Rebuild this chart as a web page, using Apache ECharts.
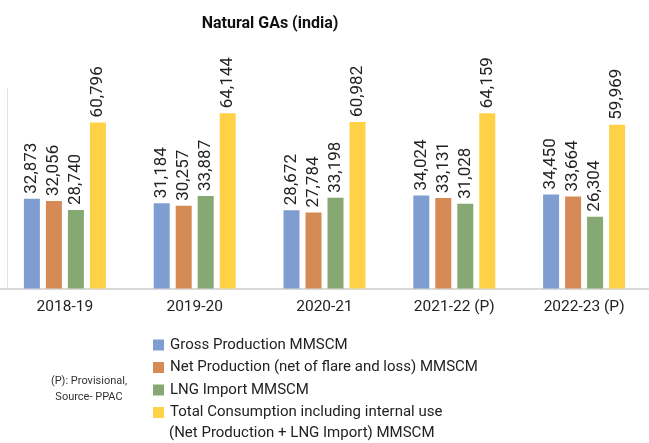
<!DOCTYPE html>
<html>
<head>
<meta charset="utf-8">
<script src="https://cdn.jsdelivr.net/npm/echarts@6/dist/echarts.min.js"></script>
<style>html,body{margin:0;padding:0;background:#fff;}#c{width:649px;height:443px;}</style>
</head>
<body>
<div id="c"></div>
<script>
var categories = ['2018-19', '2019-20', '2020-21', '2021-22 (P)', '2022-23 (P)'];
var grossProduction = [32873, 31184, 28672, 34024, 34450];
var netProduction = [32056, 30257, 27784, 33131, 33664];
var lngImport = [28740, 33887, 33198, 31028, 26304];
var totalConsumption = [60796, 64144, 60982, 64159, 59969];
var seriesNames = ['Gross Production MMSCM', 'Net Production (net of flare and loss) MMSCM', 'LNG Import MMSCM', 'Total Consumption including internal use'];
var colors = ['#7f9dd1', '#d68b56', '#86a872', '#ffd147'];

var chart = echarts.init(document.getElementById('c'));
var fontFam = 'Roboto, "DejaVu Sans", sans-serif';
function mk(name, data, color) {
  return {
    name: name, type: 'bar', data: data, barWidth: 16, barGap: '37.5%',
    itemStyle: { color: color },
    label: {
      show: true, position: 'top', rotate: 90, align: 'left', verticalAlign: 'middle',
      distance: 5, fontSize: 17, color: '#222', fontFamily: fontFam,
      formatter: function (p) { return p.value.toLocaleString('en-US'); }
    }
  };
}
chart.setOption({
  animation: false,
  title: { text: 'Natural GAs (india)', left: 265, textAlign: 'center', top: 11,
    textStyle: { fontSize: 16, fontWeight: 'bold', color: '#111', fontFamily: fontFam } },
  grid: { left: -1.5, top: 88, width: 660, height: 200.5, containLabel: false },
  xAxis: { type: 'category', data: categories,
    axisLine: { lineStyle: { color: '#d9d9d9', width: 2 } }, axisTick: { show: false },
    axisLabel: { fontSize: 15.5, color: '#222', fontFamily: fontFam, margin: 11 } },
  yAxis: { type: 'value', min: 0, max: 73400, show: false, splitLine: { show: false } },
  legend: {
    orient: 'vertical', left: 148, top: 332.5, itemWidth: 11, itemHeight: 11, itemGap: 7.5,
    icon: 'rect',
    textStyle: { fontSize: 15, color: '#222', fontFamily: fontFam, padding: [0, 0, 0, 1] },
    data: seriesNames
  },
  graphic: [
    { type: 'line', shape: { x1: 7.5, y1: 88, x2: 7.5, y2: 288 }, style: { stroke: '#e4e4e4', lineWidth: 1 } },
    { type: 'text', x: 169, y: 433, style: { text: '(Net Production + LNG Import) MMSCM', fontSize: 15, fill: '#222', fontFamily: fontFam, verticalAlign: 'middle' } },
    { type: 'text', x: 89, y: 381, style: { text: '(P): Provisional,', fontSize: 11, fill: '#333', fontFamily: fontFam, align: 'center', verticalAlign: 'middle' } },
    { type: 'text', x: 89, y: 397, style: { text: 'Source- PPAC', fontSize: 11, fill: '#333', fontFamily: fontFam, align: 'center', verticalAlign: 'middle' } }
  ],
  series: [
    mk(seriesNames[0], grossProduction, colors[0]),
    mk(seriesNames[1], netProduction, colors[1]),
    mk(seriesNames[2], lngImport, colors[2]),
    mk(seriesNames[3], totalConsumption, colors[3])
  ]
});
</script>
</body>
</html>
